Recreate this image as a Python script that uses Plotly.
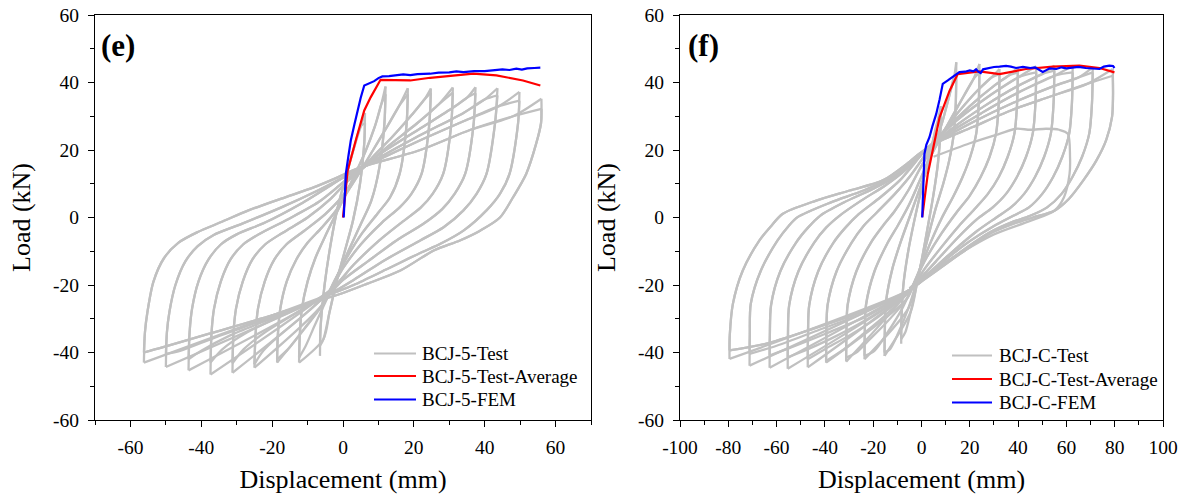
import plotly.graph_objects as go

# ================= Panel (e): BCJ-5 =================
e_dpos = [6.2, 12.0, 18.3, 24.8, 31.0, 37.4, 43.6, 49.8, 56.0]
e_ppos1 = [31.0, 38.8, 38.3, 38.2, 38.5, 38.6, 38.3, 37.2, 35.2]
e_ppos2 = [28.0, 36.5, 36.5, 37.0, 37.0, 36.8, 36.2, 34.6, 32.2]
e_dneg = [-6.5, -12.4, -18.6, -25.0, -31.2, -37.4, -43.6, -50.0, -56.2]
e_pneg1 = [-41.0, -43.0, -43.0, -44.5, -46.0, -46.5, -45.3, -44.3, -43.0]
e_pneg2 = [-38.0, -41.5, -42.0, -43.5, -43.2, -43.0, -42.0, -40.4, -40.0]

# reloading branches (after the negative peak, towards the positive peak)
e_up = [
    [(-6.3, -32), (-5.2, -20), (-3.5, -8), (-1.5, 3), (0.8, 12), (3.2, 21), (5.0, 27)],
    [(-12.2, -35), (-11.6, -27), (-10, -19), (-7.8, -12), (-5, -5.5), (-2, 1), (1, 7.5), (3.5, 13), (6.3, 19.5), (9, 27), (10.8, 33.5)],
    [(-18.4, -35), (-17.7, -27), (-15.9, -19), (-13.2, -12.5), (-10, -7.5), (-6, -3), (-2, 2), (1.5, 8), (4.5, 13), (8.5, 20), (12.5, 27), (15.8, 33)],
    [(-24.7, -35), (-24, -27), (-22.1, -19), (-19.4, -12.5), (-16, -8), (-11, -4), (-5, 1), (0, 6.5), (3.5, 12), (8, 17.5), (14, 24), (19.5, 30.5), (23, 35)],
    [(-30.9, -34), (-30.2, -27), (-28.3, -19), (-25.6, -12.5), (-22, -8), (-17, -4.5), (-10, 0), (-3.5, 5.5), (1, 10.5), (5, 14), (12, 20.5), (21, 28), (27, 33.5)],
    [(-37.1, -34), (-36.4, -27), (-34.5, -19), (-31.8, -12.5), (-28.2, -8), (-23.5, -4.8), (-15.5, -0.5), (-7, 4.5), (-1, 9.5), (3, 13), (10, 18.5), (22, 26.5), (31, 32.5), (35, 35.5)],
    [(-43.3, -34), (-42.6, -27), (-40.8, -19), (-38, -12.5), (-34.5, -8), (-30, -5), (-22, -1.5), (-12, 4), (-3.5, 9.5), (1, 12.5), (8, 16.5), (22, 24.5), (34, 31), (40, 35)],
    [(-49.7, -34), (-49, -28), (-47.3, -20), (-44.5, -13), (-41, -8.5), (-36.5, -5.2), (-28.6, -1.9), (-17.4, 3), (-7.1, 8), (-0.6, 11.5), (4, 14), (20, 22), (34, 28.5), (44, 33)],
    [(-55.9, -34), (-55.2, -28), (-53.5, -19), (-50.5, -12), (-46.5, -7.5), (-41, -4.3), (-34, -1.2), (-26.7, 2.1), (-17.4, 5.6), (-8.1, 9), (-1.5, 11.9), (4, 14.5), (21.8, 20), (36, 26), (48, 30)],
]
# unloading branches (after the positive peak, towards the negative peak)
e_down = [
    [(6, 22), (4.8, 10), (2.8, -1), (0.5, -10), (-1.8, -19), (-3.8, -28), (-5.5, -36)],
    [(11.7, 28), (10.3, 15), (8, 5), (5, -2), (1.5, -10), (-1.5, -17), (-4.5, -24), (-8, -32), (-10.5, -38)],
    [(17.9, 27), (16, 13), (13.3, 6), (10, 1.5), (5.5, -4.5), (1, -12), (-2.5, -19), (-6, -26), (-11, -33), (-15.5, -39)],
    [(24.3, 27), (22.2, 13), (19.3, 7), (16, 3), (11, -1.5), (5, -8), (0, -15), (-4, -22), (-10, -28), (-18, -35), (-22.5, -39.5)],
    [(30.5, 27), (28.3, 13), (25.3, 7), (22, 3), (16.5, -1.5), (10, -7), (3, -14), (-3, -21), (-12, -27.5), (-22, -34), (-28, -39)],
    [(36.8, 27), (34.5, 13), (31.5, 7), (28, 2.5), (22.5, -2), (15.5, -6.5), (7, -13), (0, -18.5), (-4, -22.5), (-15, -28), (-27, -34), (-34, -39)],
    [(42.9, 27.8), (40.5, 12.9), (37.7, 7), (34, 2.1), (28.4, -2.9), (21.8, -6.8), (12, -12.5), (3, -18.5), (-3.5, -22.5), (-18, -29), (-32, -35), (-40, -39.5)],
    [(49.4, 27.8), (47, 12.9), (44.3, 7), (40.5, 2.1), (34, -3.9), (27.5, -7.8), (21.8, -10.5), (12, -15.5), (3, -20), (-3, -22.5), (-20, -29.5), (-36, -35.5), (-46, -39.5)],
    [(55.9, 28), (54.5, 21.8), (51.7, 12.9), (48, 6), (44.3, 0), (38.7, -3.9), (33, -6.8), (25.6, -9.8), (16.2, -15.7), (6.9, -19.6), (-0.6, -22.6), (-5, -24), (-20, -29), (-38, -34.5), (-51, -38.5)],
]
e_avg_x = [0, 1.3, 3.6, 6.0, 7.8, 10.6, 19.0, 24.6, 36.8, 43.3, 50.8, 55.7]
e_avg_y = [0, 13.9, 22.8, 31.7, 35.6, 40.8, 40.6, 41.4, 42.6, 42.1, 40.6, 39.1]
e_fem_x = [0.2, 0.5, 0.8, 1.5, 2.2, 3.2, 4.1, 5.0, 6.0, 7.4, 8.8, 10.0, 11.1, 13.0, 15.3, 17.0, 19.0,
           21.0, 24.6, 27.0, 30.0, 32.0, 34.0, 37.0, 40.0, 43.3, 45.0, 47.0, 48.9, 50.5, 52.0, 54.0, 55.7]
e_fem_y = [0, 6.0, 12.9, 18.0, 22.8, 27.5, 31.7, 35.5, 39.1, 39.8, 40.4, 41.3, 41.8, 41.9, 42.1, 42.4, 42.2,
           42.5, 42.6, 42.9, 43.0, 43.3, 43.1, 43.4, 43.4, 43.6, 43.9, 43.7, 44.1, 43.8, 44.2, 44.3, 44.4]
e_names = ["BCJ-5-Test", "BCJ-5-Test-Average", "BCJ-5-FEM"]

# ================= Panel (f): BCJ-C =================
f_dpos = [8.0, 14.4, 24.0, 32.3, 39.9, 47.5, 55.0, 62.6, 70.9, 79.2]
f_ppos1 = [33.0, 46.0, 45.5, 44.0, 44.5, 44.8, 45.0, 45.0, 44.5, 44.0]
f_ppos2 = [30.0, 42.0, 43.0, 42.5, 43.0, 43.0, 43.5, 43.0, 43.0, 42.0]
f_dneg = [-8.4, -15.3, -23.6, -31.2, -39.5, -47.1, -55.4, -62.9, -71.2, -79.5]
f_pneg1 = [-37.4, -41.0, -42.0, -42.7, -43.0, -44.4, -44.8, -44.5, -43.9, -41.9]
f_pneg2 = [-36.0, -40.0, -41.0, -41.5, -42.5, -42.0, -41.4, -40.9, -40.4, -39.4]

f_up = [
    [(-8.3, -30), (-7.5, -20), (-5.5, -10), (-3, -1), (-0.5, 7), (2, 15), (4.5, 22), (6.5, 28)],
    [(-15.2, -34), (-14.7, -25), (-12, -15), (-8.5, -7), (-5, 0), (-1.5, 7), (2, 14), (5, 20.5), (8.5, 28), (11.5, 36), (13.5, 41.5)],
    [(-23.5, -35), (-23, -26), (-19.5, -16), (-14, -7.5), (-9.5, -2), (-5, 4), (-1, 10.5), (3, 17), (7, 22.5), (12, 29), (17.5, 36), (21.5, 41)],
    [(-31.1, -35), (-30.6, -26), (-27, -16), (-21, -7.5), (-16, -2.5), (-11, 2), (-5.5, 8), (-1, 14), (3, 19), (8, 24.5), (15, 31), (23, 37.5), (29, 41.5)],
    [(-39.4, -35), (-38.9, -26), (-35.2, -16), (-29, -7.5), (-24, -2.5), (-18.5, 1.5), (-11, 7), (-5, 12), (0, 17), (4, 21), (10, 26), (20, 33), (30, 39), (36, 42)],
    [(-47, -35), (-46.5, -26), (-42.8, -16), (-36.5, -7.5), (-31.5, -3), (-26, 1), (-17, 6), (-9, 11), (-3, 16), (1, 19.5), (6, 23), (15, 29), (28, 36), (40, 41.5)],
    [(-55.3, -35), (-54.8, -26), (-51, -16), (-44.5, -7.5), (-39.5, -3), (-34, 0.5), (-25, 5), (-15, 9.5), (-6, 14.5), (-0.5, 18.5), (3, 20.5), (12, 26), (26, 33), (40, 39), (50, 42.5)],
    [(-62.8, -35), (-62.3, -26), (-58.5, -16), (-52, -7.5), (-47, -3), (-42, 0.5), (-32, 4.5), (-20, 8.5), (-10, 12.5), (-2.5, 17.5), (1, 19.5), (10, 24.5), (25, 31), (40, 37), (55, 42)],
    [(-71.1, -35), (-70.7, -25.6), (-66.5, -15.7), (-59.6, -6.8), (-55, -2.5), (-51.3, 0.1), (-37.5, 4.5), (-24, 8), (-12, 12), (-3, 17), (1, 19.5), (8, 23), (22, 28.5), (38, 34), (55, 39), (65, 41.5)],
    [(-79.4, -35), (-78.1, -25.6), (-74, -15.7), (-67.1, -6.8), (-62.6, -2.8), (-57.4, 1.1), (-43.6, 5), (-29.8, 8), (-16, 11), (-5, 16.5), (-0.9, 18.9), (5.4, 21.9), (21.2, 26.8), (37, 31.7), (52.8, 35.7), (68.6, 39.6)],
]
f_down = [
    [(7.8, 25), (6.8, 16), (5, 7), (2.8, -2), (0.5, -11), (-2, -20), (-4.5, -28), (-6.7, -34)],
    [(14.2, 34), (13.4, 25), (11.5, 17), (9, 10), (6, 3), (3, -5), (0.5, -12), (-2, -19), (-5.5, -27), (-9.5, -34), (-13, -39)],
    [(23.7, 34), (22.7, 25), (20.2, 18), (17, 12), (13, 6), (8.5, 0), (4, -7), (0, -14), (-3.5, -20), (-8, -27), (-14, -34), (-19.5, -39.5)],
    [(32, 34), (30.9, 25), (28.2, 18), (24.5, 12), (20, 6.5), (14.5, 1.5), (8, -5), (2, -12), (-2.5, -18.5), (-6, -24), (-15, -31.5), (-22, -36.5), (-27, -40)],
    [(39.6, 34), (38.5, 25), (35.7, 18), (32, 12), (27.5, 7), (22, 2.5), (15.5, -2.5), (8, -9), (1, -15.5), (-4, -21), (-15, -29), (-25, -35), (-33, -39.5)],
    [(47.2, 34), (46.1, 25), (43.3, 18), (39.5, 12), (35, 7), (29.5, 3), (23, -0.5), (15, -6), (6, -13), (-1, -18.5), (-5, -22), (-18, -29.5), (-30, -35), (-40, -39)],
    [(54.7, 34), (53.6, 25), (50.8, 18), (47, 12), (42.5, 7), (37, 3), (31, 0), (23, -4), (13, -10), (3, -16.5), (-4, -21), (-20, -29), (-35, -35), (-47, -39)],
    [(62.3, 34), (61.2, 25), (58.3, 18), (54.5, 12), (50, 7), (44.5, 3), (38, 0.5), (30, -2.5), (20, -7), (10, -12.5), (0.5, -18.5), (-5, -21.5), (-22, -29), (-40, -34.5), (-54, -38.5)],
    [(70.6, 34), (69.5, 25), (66.5, 18), (62.5, 12), (58, 7), (52, 3), (45, 0.5), (37, -1.5), (28, -4.5), (19.5, -8.5), (10, -13.5), (0.5, -18.5), (-5, -21.5), (-25, -28.5), (-45, -34), (-60, -38)],
    [(79.3, 36), (78.9, 29.8), (76.5, 23), (72.5, 17), (67, 11), (61, 5.5), (55, 2), (46.1, 0), (37.8, -1.9), (28.2, -4.8), (19.9, -8.8), (10.2, -13.7), (0.5, -18.7), (-5, -21.5), (-25, -28), (-45, -33), (-65, -37.5)],
]
# irregular inner loop (about 27 kN plateau)
f_odd = [(5, 18), (20, 22), (32.3, 24.8), (39.2, 26.3), (45, 26), (51.6, 26.3), (57, 26), (60.6, 24.8),
         (61.5, 18), (61.3, 12.9), (59, 6), (55, 2), (45, -1), (30, -5), (15, -11), (0, -18), (-5, -21)]
f_avg_x = [0.3, 2.6, 7.5, 11.6, 15.0, 24.0, 32.3, 43.3, 54.4, 65.4, 73.7, 79.9]
f_avg_y = [0.1, 12.9, 29.7, 37.5, 42.5, 43.3, 42.5, 44.0, 44.7, 45.0, 44.3, 43.0]
f_fem_x = [0.3, 0.8, 1.2, 2.0, 3.3, 4.5, 6.1, 7.5, 8.8, 10.9, 13.0, 15.7, 18.0, 20.0, 21.5, 22.6, 23.5,
           24.5, 25.5, 28.0, 30.0, 32.3, 35.0, 37.0, 39.2, 42.0, 45.0, 47.0, 48.5, 50.2, 51.5, 53.0,
           55.8, 58.0, 60.0, 62.7, 65.0, 68.0, 71.0, 73.7, 75.5, 77.8, 79.3, 79.9]
f_fem_y = [0, 10.0, 18.8, 21.5, 23.8, 27.0, 30.7, 35.0, 39.6, 40.6, 41.6, 43.1, 43.2, 43.6, 43.3, 43.9, 43.2,
           42.8, 43.9, 44.3, 44.6, 44.7, 44.9, 44.7, 44.3, 44.6, 44.3, 44.5, 43.8, 43.1, 43.6, 44.2,
           44.0, 44.5, 44.2, 44.3, 44.6, 44.3, 44.1, 44.0, 44.7, 45.0, 44.9, 44.3]
f_names = ["BCJ-C-Test", "BCJ-C-Test-Average", "BCJ-C-FEM"]

x_ticks_e = [-60, -40, -20, 0, 20, 40, 60]
x_ticktext_e = ["-60", "-40", "-20", "0", "20", "40", "60"]
x_ticks_f = [-100, -80, -60, -40, -20, 0, 20, 40, 60, 80, 100]
x_ticktext_f = ["-100", "-80", "-60", "-40", "-20", "0", "20", "40", "60", "80", "100"]
y_ticks = [-60, -40, -20, 0, 20, 40, 60]
y_ticktext = ["-60", "-40", "-20", "0", "20", "40", "60"]

GRAY = "#c0c0c0"
RED = "#ff0000"
BLUE = "#0000ff"
FONT = "Liberation Serif"


def hysteresis(dpos, p1, p2, dneg, n1, n2, ups, downs, extra=None):
    xs, ys = [], []

    def add(pts):
        for x, y in pts:
            xs.append(x)
            ys.append(y)
        xs.append(None)
        ys.append(None)

    n = len(dpos)
    for k in range(n):
        neg1, neg2 = (dneg[k], n1[k]), (dneg[k], n2[k])
        pos1, pos2 = (dpos[k], p1[k]), (dpos[k], p2[k])
        add([neg1] + ups[k] + [pos1])
        add([pos1] + downs[k] + [neg2])
        add([neg2] + ups[k] + [pos2])
        if k + 1 < n:
            core = [p for p in downs[k] if p[0] >= -6]
            add([pos2] + core + [(dneg[k + 1], n1[k + 1])])
        else:
            add([pos2] + downs[k] + [neg2])
    if extra:
        add(extra)
    return xs, ys


ex, ey = hysteresis(e_dpos, e_ppos1, e_ppos2, e_dneg, e_pneg1, e_pneg2, e_up, e_down)
fx, fy = hysteresis(f_dpos, f_ppos1, f_ppos2, f_dneg, f_pneg1, f_pneg2, f_up, f_down, f_odd)

fig = go.Figure()
fig.add_trace(go.Scatter(x=ex, y=ey, mode="lines", name=e_names[0],
                         line=dict(color=GRAY, width=2.3, shape="spline", smoothing=0.8),
                         xaxis="x", yaxis="y", connectgaps=False))
fig.add_trace(go.Scatter(x=e_avg_x, y=e_avg_y, mode="lines", name=e_names[1],
                         line=dict(color=RED, width=2.2), xaxis="x", yaxis="y"))
fig.add_trace(go.Scatter(x=e_fem_x, y=e_fem_y, mode="lines", name=e_names[2],
                         line=dict(color=BLUE, width=2.2), xaxis="x", yaxis="y"))

fig.add_trace(go.Scatter(x=fx, y=fy, mode="lines", name=f_names[0],
                         line=dict(color=GRAY, width=2.3, shape="spline", smoothing=0.8),
                         xaxis="x2", yaxis="y2", connectgaps=False))
fig.add_trace(go.Scatter(x=f_avg_x, y=f_avg_y, mode="lines", name=f_names[1],
                         line=dict(color=RED, width=2.2), xaxis="x2", yaxis="y2"))
fig.add_trace(go.Scatter(x=f_fem_x, y=f_fem_y, mode="lines", name=f_names[2],
                         line=dict(color=BLUE, width=2.2), xaxis="x2", yaxis="y2"))


def axis_style(**kw):
    d = dict(showline=True, linecolor="black", linewidth=1.3, mirror=True,
             ticks="outside", ticklen=6, tickwidth=1.3, tickcolor="black",
             minor=dict(ticks="outside", ticklen=3.5, tickwidth=1.3, tickcolor="black", dtick=10),
             showgrid=False, zeroline=False, automargin=False,
             ticklabeloverflow="allow",
             tickfont=dict(family=FONT, size=19.5, color="black"),
             title_font=dict(family=FONT, size=26, color="black"))
    d.update(kw)
    return d


# the page body margin is removed by the post script, so the figure fills the window
W, H = 1191, 499


def px(xp):
    return xp / W


def py(yp):
    return (420 - yp) / 405


dom_e = [px(95), px(591)]
dom_f = [px(680), px(1163)]

annotations = [
    dict(text="<b>(e)</b>", x=px(99), y=py(45), xref="paper", yref="paper",
         xanchor="left", yanchor="middle", showarrow=False,
         font=dict(family=FONT, size=31, color="black")),
    dict(text="<b>(f)</b>", x=px(686), y=py(45), xref="paper", yref="paper",
         xanchor="left", yanchor="middle", showarrow=False,
         font=dict(family=FONT, size=31, color="black")),
]
shapes = []
legend_colors = [GRAY, RED, BLUE]
# legend boxes: (line start, line end, text start, row centres) in page pixels
for names, (lx0, lx1, tx, rows) in ((e_names, (374, 416, 420, [353.5, 376, 399.5])),
                                     (f_names, (952, 992, 997, [355.5, 379, 402.5]))):
    for name, col, ry in zip(names, legend_colors, rows):
        shapes.append(dict(type="line", xref="paper", yref="paper",
                           x0=px(lx0), x1=px(lx1), y0=py(ry), y1=py(ry),
                           line=dict(color=col, width=2.2)))
        annotations.append(dict(text=name, x=px(tx), y=py(ry), xref="paper", yref="paper",
                                xanchor="left", yanchor="middle", showarrow=False,
                                font=dict(family=FONT, size=19, color="black")))

fig.update_layout(
    width=W, height=H,
    margin=dict(l=0, r=0, t=15, b=H - 420),
    paper_bgcolor="white", plot_bgcolor="white",
    font=dict(family=FONT, color="black"),
    showlegend=False,
    xaxis=axis_style(domain=dom_e, range=[-70, 70], tickvals=x_ticks_e, ticktext=x_ticktext_e,
                     ticklabelstandoff=3,
                     title=dict(text="Displacement (mm)", standoff=13), anchor="y"),
    yaxis=axis_style(domain=[0, 1], range=[-60, 60], tickvals=y_ticks, ticktext=y_ticktext,
                     ticklabelstandoff=5,
                     title=dict(text="Load (kN)", standoff=14), anchor="x"),
    xaxis2=axis_style(domain=dom_f, range=[-100, 100], tickvals=x_ticks_f, ticktext=x_ticktext_f,
                      ticklabelstandoff=3,
                      title=dict(text="Displacement (mm)", standoff=13), anchor="y2"),
    yaxis2=axis_style(domain=[0, 1], range=[-60, 60], tickvals=y_ticks, ticktext=y_ticktext,
                      ticklabelstandoff=5,
                      title=dict(text="Load (kN)", standoff=14), anchor="x2"),
    annotations=annotations,
    shapes=shapes,
)

fig.write_html("out.html",
               config={"displayModeBar": False},
               post_script="document.body.style.margin='0';document.body.style.overflow='hidden';")
